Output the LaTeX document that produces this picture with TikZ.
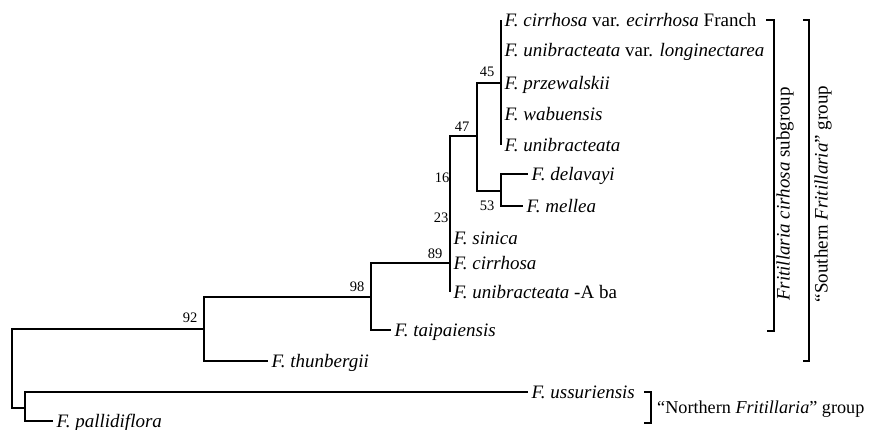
\documentclass[tikz,border=0pt]{standalone}
\usepackage{fontspec}
\setmainfont{Liberation Serif}
\begin{document}
\begin{tikzpicture}[x=1pt,y=-1pt,
  branch/.style={line width=1.1pt},
  bracket/.style={line width=1.1pt},
  leaf/.style={anchor=west, inner xsep=3.5pt, inner ysep=0pt,
    text height=13pt, text depth=0pt, font=\fontsize{19}{21}\selectfont},
  boot/.style={inner sep=0pt, font=\fontsize{14.5}{16}\selectfont},
  grouplabel/.style={inner sep=0pt, font=\fontsize{19}{21}\selectfont}]
\useasboundingbox (0,0) rectangle (870,430);

% internal nodes of the tree
\coordinate (root) at (12,368);
\coordinate (n92) at (204,329);
\coordinate (n98) at (371,297);
\coordinate (n89) at (450,263);
\coordinate (n47) at (477,136);
\coordinate (n45) at (501,83);
\coordinate (n53) at (501,191);
\coordinate (nN) at (25,408);

% terminal taxa
\node[leaf] (cirrvar) at (501,20)  {\textit{F. cirrhosa} var. \textit{ecirrhosa} Franch};
\node[leaf] (unilong) at (501,50)  {\textit{F. unibracteata} var. \textit{longinectarea}};
\node[leaf] (przew)   at (501,83)  {\textit{F. przewalskii}};
\node[leaf] (wabu)    at (501,114) {\textit{F. wabuensis}};
\node[leaf] (unib)    at (501,145) {\textit{F. unibracteata}};
\node[leaf] (dela)    at (528,174) {\textit{F. delavayi}};
\node[leaf] (mell)    at (523,206) {\textit{F. mellea}};
\node[leaf] (sini)    at (450,238) {\textit{F. sinica}};
\node[leaf] (cirr)    at (450,263) {\textit{F. cirrhosa}};
\node[leaf] (uniAba)  at (450,292) {\textit{F. unibracteata} -A ba};
\node[leaf] (taip)    at (391,330) {\textit{F. taipaiensis}};
\node[leaf] (thun)    at (268,361) {\textit{F. thunbergii}};
\node[leaf] (ussu)    at (528,392) {\textit{F. ussuriensis}};
\node[leaf] (pall)    at (53,421)  {\textit{F. pallidiflora}};

% branches
\draw[branch] (root) |- (n92);
\draw[branch] (root) |- (nN);
\draw[branch] (n92) |- (n98);
\draw[branch] (n92) |- (thun.west);
\draw[branch] (n98) |- (n89);
\draw[branch] (n98) |- (taip.west);
\draw[branch] (n89) |- (n47);
\draw[branch] (n89) |- (sini.west);
\draw[branch] (n89) |- (cirr.west);
\draw[branch] (n89) |- (uniAba.west);
\draw[branch] (n47) |- (n45);
\draw[branch] (n47) |- (n53);
\draw[branch] (n45) |- (cirrvar.west);
\draw[branch] (n45) |- (unilong.west);
\draw[branch] (n45) |- (przew.west);
\draw[branch] (n45) |- (wabu.west);
\draw[branch] (n45) |- (unib.west);
\draw[branch] (n53) |- (dela.west);
\draw[branch] (n53) |- (mell.west);
\draw[branch] (nN) |- (ussu.west);
\draw[branch] (nN) |- (pall.west);

% bootstrap values
\node[boot] (b45) at (487,72)  {45};
\node[boot] (b47) at (462,127) {47};
\node[boot] (b16) at (442,178) {16};
\node[boot] (b23) at (441,218) {23};
\node[boot] (b89) at (435,254) {89};
\node[boot] (b53) at (487,206) {53};
\node[boot] (b98) at (357,287) {98};
\node[boot] (b92) at (190,318) {92};

% group brackets
\draw[bracket] (766,20) -- (774,20) -- (774,331) -- (767,331);
\draw[bracket] (803,20) -- (809,20) -- (809,361) -- (803,361);
\draw[bracket] (644,392) -- (651,392) -- (651,423) -- (644,423);

\node[grouplabel, rotate=90] (subg) at (785,194) {\textit{Fritillaria cirhosa} subgroup};
\node[grouplabel, rotate=90] (south) at (823,194) {``Southern \textit{Fritillaria}'' group};
\node[grouplabel, anchor=west, text height=13pt, text depth=0pt,
  font=\fontsize{18.2}{20}\selectfont] (north) at (657,407)
  {``Northern \textit{Fritillaria}'' group};
\end{tikzpicture}
\end{document}
